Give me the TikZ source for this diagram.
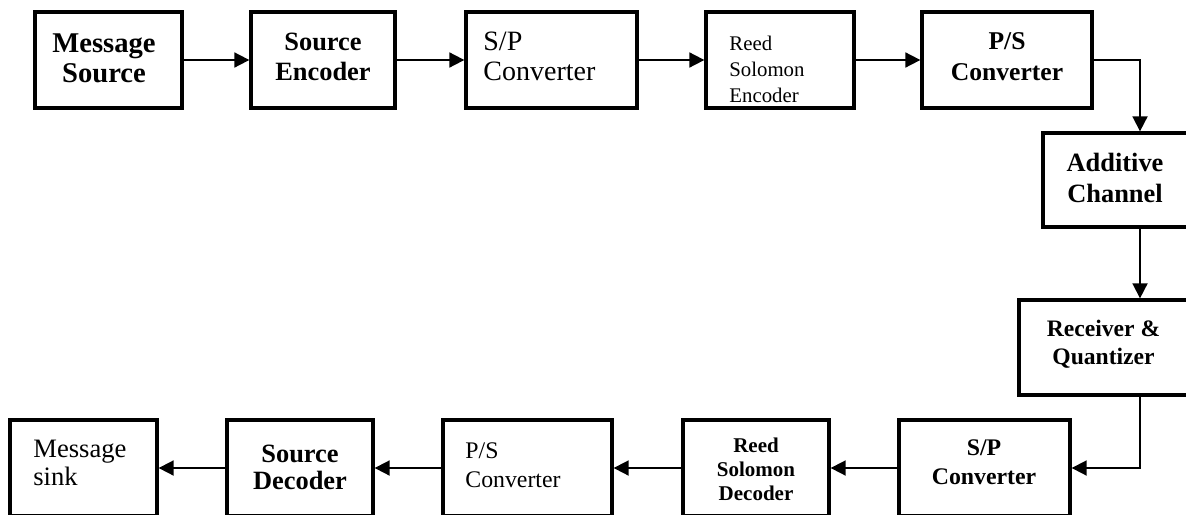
\documentclass[tikz,border=0pt]{standalone}
\usepackage{fontspec}
\setmainfont{Liberation Serif}
\usetikzlibrary{arrows.meta,fit}
\newcommand{\fsz}[2]{\fontsize{#1}{#2}\selectfont}

\begin{document}
\begin{tikzpicture}[x=0.5pt,y=-0.5pt,>={Triangle[length=7.5pt,width=7.5pt]},
  blk/.style={draw,line width=1.65pt,inner sep=0pt},
  lnk/.style={->,line width=0.9pt},
  txt/.style={inner sep=0pt,anchor=north,align=center},
  ltxt/.style={inner sep=0pt,anchor=north west,align=left}]
  \clip (0,0) rectangle (1186,514);

  % transmitter chain
  \node[blk,fit={(35,12) (182,108)}] (msrc) {};
  \node[blk,fit={(251,12) (395,108)}] (senc) {};
  \node[blk,fit={(466,12) (637,108)}] (sp1) {};
  \node[blk,fit={(706,12) (854,108)}] (rse) {};
  \node[blk,fit={(922,12) (1092,108)}] (ps1) {};
  \node[txt,font=\fsz{14.3}{15}\bfseries] (msrcl) at (104,33) {Message\\Source};
  \node[txt,font=\fsz{13.2}{15}\bfseries] (sencl) at (323,33) {Source\\Encoder};
  \node[ltxt,font=\fsz{14}{15}] (sp1l) at (483,32) {S/P\\Converter};
  \node[ltxt,font=\fsz{10.4}{13}] (rsel) at (729,36) {Reed\\Solomon\\Encoder};
  \node[txt,font=\fsz{12.8}{15.5}\bfseries] (ps1l) at (1007,32) {P/S\\Converter};

  % channel and receiver, down the right side
  \node[blk,fit={(1043,133) (1240,227)}] (chan) {};
  \node[blk,fit={(1019,300) (1240,395)}] (rq) {};
  \node[txt,font=\fsz{13.2}{15.5}\bfseries] (chanl) at (1115,153) {Additive\\Channel};
  \node[txt,font=\fsz{11.8}{14}\bfseries] (rql) at (1103.5,320) {Receiver \&\\Quantizer};

  % decoding chain, right to left
  \node[blk,fit={(899,420) (1070,516)}] (sp2) {};
  \node[blk,fit={(683,420) (829,516)}] (rsd) {};
  \node[blk,fit={(443,420) (612,516)}] (ps2) {};
  \node[blk,fit={(227,420) (373,516)}] (sdec) {};
  \node[blk,fit={(10,420) (157,516)}] (sink) {};
  \node[txt,font=\fsz{11.9}{14.5}\bfseries] (sp2l) at (984,439) {S/P\\Converter};
  \node[txt,font=\fsz{10.5}{12}\bfseries] (rsdl) at (756,438) {Reed\\Solomon\\Decoder};
  \node[ltxt,font=\fsz{11.9}{14.5}] (ps2l) at (465,442) {P/S\\Converter};
  \node[txt,font=\fsz{13.2}{13.5}\bfseries] (sdecl) at (300,445) {Source\\Decoder};
  \node[ltxt,font=\fsz{13.3}{14}] (sinkl) at (33,440) {Message\\sink};

  \foreach \a/\b in {msrc/senc,senc/sp1,sp1/rse,rse/ps1,sp2/rsd,rsd/ps2,ps2/sdec,sdec/sink}
    \draw[lnk] (\a) -- (\b);

  \coordinate (drop) at (1140,0);
  \draw[lnk] (ps1.east) -| (drop |- chan.north);
  \draw[lnk] (drop |- chan.south) -- (drop |- rq.north);
  \draw[lnk] (drop |- rq.south) |- (sp2.east);
\end{tikzpicture}
\end{document}
